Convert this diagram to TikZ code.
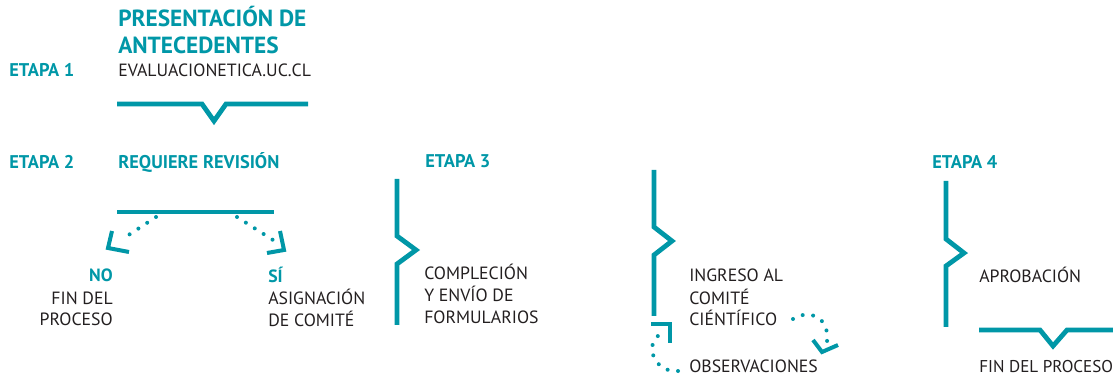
\documentclass[tikz,border=0pt]{standalone}
\usepackage{fontspec}
\setmainfont{PT Sans}
\usepackage{xcolor}
\usepackage{tikz}
\usetikzlibrary{positioning}
\definecolor{ucteal}{RGB}{0,151,167}
\definecolor{uctext}{RGB}{35,31,32}

\begin{document}
\begin{tikzpicture}[
    x=0.75pt, y=-0.75pt,
    every node/.style={
        inner sep=0pt,
        anchor=base west,
        align=left,
        text=uctext,
        font=\fontsize{13.3}{16.5}\selectfont
    },
    stage/.style={text=ucteal, font=\bfseries\fontsize{13.8}{16.5}\selectfont},
    title/.style={text=ucteal, font=\bfseries\fontsize{17.5}{20.3}\selectfont},
    bar/.style={draw=ucteal, line width=3.6pt},
    trail/.style={draw=ucteal, line width=3pt, line cap=round, dash pattern=on 0pt off 7.9pt},
    barb/.style={draw=ucteal, line width=3pt}
]
\useasboundingbox (0,0) rectangle (1113,377);

% etapa 1
\node[stage] (etapa1) at (9,77) {ETAPA 1};
\node[title] (presentacion) at (118,54) {PRESENTACIÓN DE\\ANTECEDENTES};
\node (web) at (118,77) {EVALUACIONETICA.UC.CL};
\draw[bar] (117,104) -- (202,104) -- (214,121) -- (226,104) -- (308,104);

% etapa 2
\node[stage] (etapa2) at (9,169) {ETAPA 2};
\node[stage] (revision) at (118,169) {REQUIERE REVISIÓN};
\draw[bar] (117,212) -- (274,212);
\node[anchor=base east, align=right] (no) at (113,326)
    {\textcolor{ucteal}{\bfseries NO}\\FIN DEL\\PROCESO};
\node (si) at (268,327)
    {\textcolor{ucteal}{\bfseries SÍ}\\ASIGNACIÓN\\DE COMITÉ};
\coordinate (noStart) at (156,217);
\coordinate (noEnd) at (121,240);
\coordinate (siStart) at (237,217);
\coordinate (siEnd) at (273,240);
\draw[trail] (noStart) -- (noEnd);
\draw[trail] (siStart) -- (siEnd);
\draw[barb] (112,231) -- (108,248) -- (129,252);
\draw[barb] (280,231) -- (284,250) -- (267,253);

% etapa 3
\node[stage] (etapa3) at (425,168) {ETAPA 3};
\draw[bar] (397,179) -- (397,236) -- (416,250) -- (397,264) -- (397,325);
\node (complecion) at (424,324) {COMPLECIÓN\\Y ENVÍO DE\\FORMULARIOS};

\draw[bar] (654,170) -- (654,227) -- (672,241) -- (654,255) -- (654,316);
\node (ingreso) at (689,326) {INGRESO AL\\COMITÉ\\CIÉNTÍFICO};
\node (observaciones) at (689,373) {OBSERVACIONES};
\coordinate (obsStart) at (678,371);
\coordinate (obsEnd) at (659,335);
\coordinate (cienStart) at (793,319);
\coordinate (cienEnd) at (827,342);
\draw[trail] (obsStart) .. controls (655,373) and (644,346) .. (obsEnd);
\draw[barb] (651,324) -- (670,324) -- (670,343);
\draw[trail] (cienStart) .. controls (808,309) and (830,316) .. (cienEnd);
\draw[barb] (813,340) -- (822,352) -- (838,345);

% etapa 4
\node[stage] (etapa4) at (932,169) {ETAPA 4};
\draw[bar] (946,181) -- (946,239) -- (964,253) -- (946,266) -- (946,327);
\node (aprobacion) at (979,283) {APROBACIÓN};
\draw[bar] (979,330) -- (1040,330) -- (1053,346) -- (1067,330) -- (1118,330);
\node[font=\fontsize{12.8}{16.5}\selectfont] (fin) at (979,373) {FIN DEL PROCESO};

\end{tikzpicture}
\end{document}
